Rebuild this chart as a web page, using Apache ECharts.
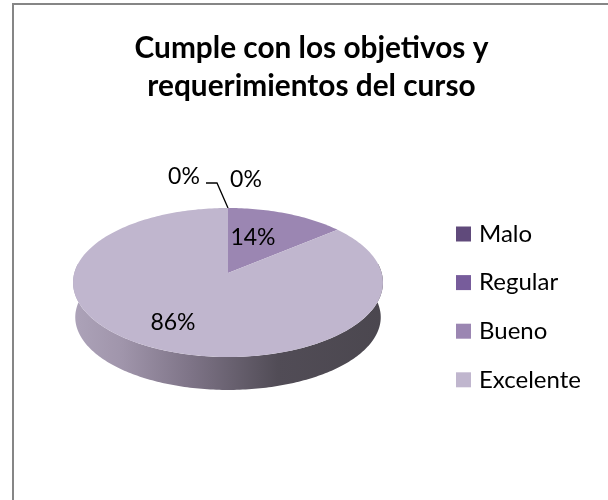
<!DOCTYPE html>
<html><head><meta charset="utf-8">
<style>html,body{margin:0;padding:0;background:#fff}#c{width:608px;height:500px}</style>
<script src="https://cdn.jsdelivr.net/npm/echarts@6/dist/echarts.min.js"></script>
</head><body><div id="c"></div>
<script>
const titleLines = ['Cumple con los objetivos y', 'requerimientos del curso'];
const categories = ['Malo', 'Regular', 'Bueno', 'Excelente'];
const values = [0, 0, 14, 86];
const colors = ['#604a7b', '#775c9b', '#9b86b2', '#c0b6ce'];
const FONT = 'Lato, "Open Sans", sans-serif';

// perspective projection of the pie disc
const P = 0.1275;
function project(theta, plane) {
  const u = Math.sin(theta), v = Math.cos(theta), w = 1 + P * v;
  return [plane.cx + plane.R * u / w, plane.y0 - plane.K * v / w];
}
const topPlane = {cx: 228, y0: 273, R: 153.7, K: 73.3};
const botPlane = {cx: 228, y0: 308, R: 151.5, K: 71.5};
const total = values.reduce((a, b) => a + b, 0);
const wallGrad = {type: 'linear', x: 76, y: 0, x2: 382, y2: 0, global: true, colorStops: [
  {offset: 0, color: '#aca2b8'}, {offset: 0.15, color: '#a095ab'}, {offset: 0.38, color: '#7d7386'},
  {offset: 0.66, color: '#514c56'}, {offset: 1, color: '#4b474f'}]};
const labelPos = [[184, 177], [246, 180], [253, 238], [173, 323]];

function sliceRender(idx) {
  return function () {
    const before = values.slice(0, idx).reduce((a, b) => a + b, 0);
    const a0 = before / total * 2 * Math.PI, a1 = (before + values[idx]) / total * 2 * Math.PI;
    const children = [];
    const steps = Math.max(1, Math.ceil((a1 - a0) / 0.02));
    // visible side wall: front half of the rim
    const wa = Math.max(a0, Math.PI / 2 - 0.13), wb = Math.min(a1, 3 * Math.PI / 2 + 0.13);
    if (wb > wa) {
      const f = [], b = [];
      for (let i = 0; i <= 200; i++) {
        const t = wa + (wb - wa) * i / 200;
        f.push(project(t, topPlane)); b.unshift(project(t, botPlane));
      }
      children.push({type: 'polygon', shape: {points: f.concat(b)}, style: {fill: wallGrad}});
    }
    if (a1 > a0) {
      const pts = [[topPlane.cx, topPlane.y0]];
      for (let i = 0; i <= steps; i++) pts.push(project(a0 + (a1 - a0) * i / steps, topPlane));
      children.push({type: 'polygon', shape: {points: pts}, style: {fill: colors[idx]}});
    }
    if (idx === 0) {
      children.push({type: 'polyline', shape: {points: [[206, 183], [217, 183], [228, 208]]},
        style: {stroke: '#000', lineWidth: 1.3, fill: null}});
    }
    children.push({type: 'text', z2: 10, style: {text: values[idx] + '%', x: labelPos[idx][0], y: labelPos[idx][1],
      align: 'center', verticalAlign: 'middle', fill: '#000', font: '23px ' + FONT}});
    return {type: 'group', children};
  };
}

const chart = echarts.init(document.getElementById('c'), null, {renderer: 'canvas'});
chart.setOption({
  animation: false,
  backgroundColor: '#fff',
  title: {
    text: titleLines.join('\n'), left: 306.5, top: 25, textAlign: 'center',
    textStyle: {fontFamily: FONT, fontWeight: 'bold', fontSize: 29.8, lineHeight: 37.5, color: '#000'}
  },
  legend: {
    orient: 'vertical', left: 456, top: 222, padding: 0, itemWidth: 15, itemHeight: 15, itemGap: 24.6,
    icon: 'rect', selectedMode: false, data: categories,
    textStyle: {fontFamily: FONT, fontSize: 24, color: '#000', lineHeight: 15, padding: [0, 0, 0, 3]}
  },
  graphic: [{type: 'rect', silent: true, z: -1, shape: {x: 13, y: 4, width: 700, height: 700},
    style: {fill: 'none', stroke: '#868686', lineWidth: 2}}],
  series: categories.map((name, i) => ({
    type: 'custom', name, coordinateSystem: 'none', silent: true,
    itemStyle: {color: colors[i]}, data: [[values[i]]], renderItem: sliceRender(i)
  }))
});
</script></body></html>
